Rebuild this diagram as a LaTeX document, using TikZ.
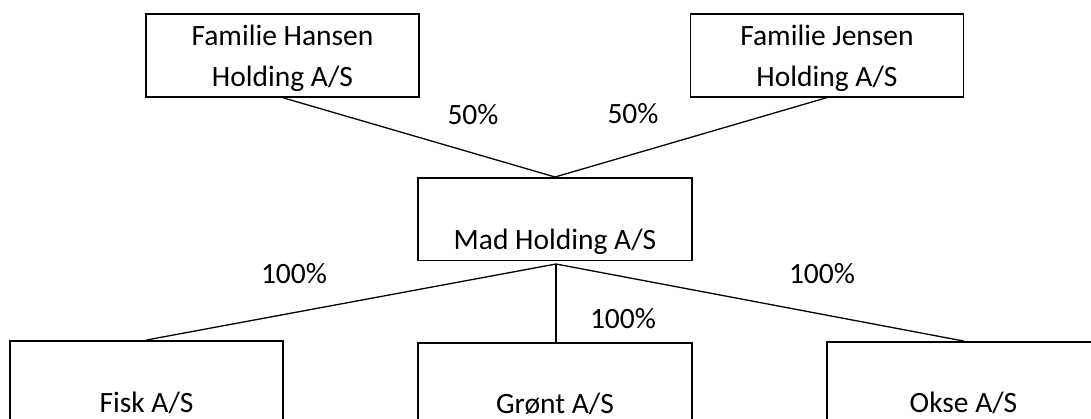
\documentclass[tikz,border=0pt]{standalone}
\usepackage{fontspec}
\setmainfont{Carlito}
\usepackage{tikz}
\usetikzlibrary{positioning,calc}

\tikzset{
  firm/.style={draw, line width=1.6pt, inner sep=0pt, minimum width=273pt,
    text height=72pt, text depth=10.5pt, anchor=north},
  firmtwo/.style={firm, align=center, text height=73pt, text depth=10pt},
  share/.style={line width=1.3pt},
  pct/.style={anchor=base, inner sep=0pt}
}

\begin{document}
\begin{tikzpicture}[x=1pt,y=-1pt,font=\fontsize{29.5}{41}\selectfont]
    \useasboundingbox (0,0) rectangle (1091,418);

    % Owners
    \node[firmtwo] (hansen) at (282.5,13) {Familie Hansen\\Holding A/S};
    \node[firmtwo] (jensen) at (827,13) {Familie Jensen\\Holding A/S};

    % Holding company
    \node[firm, minimum width=274pt] (mad) at (555,177) {Mad Holding A/S};
    \coordinate (madfoot) at (556,264);

    % Subsidiaries
    \node[firm, text height=72pt] (fisk) at (146.5,340) {Fisk A/S};
    \node[firm, minimum width=274pt, text height=70.5pt] (gront) at (555,342) {Grønt A/S};
    \node[firm, text height=71pt] (okse) at (963.5,341) {Okse A/S};

    % Ownership lines
    \draw[share] (hansen.south) -- (mad.north);
    \draw[share] (jensen.south) -- (mad.north);
    \draw[share] (madfoot) -- (fisk.north);
    \draw[share] (madfoot) -- (madfoot |- gront.north);
    \draw[share] (madfoot) -- (okse.north);

    % Shares
    \node[pct] (pa) at (473,124) {50\%};
    \node[pct] (pb) at (633,123) {50\%};
    \node[pct] (pc) at (294,283) {100\%};
    \node[pct] (pd) at (623,328) {100\%};
    \node[pct] (pe) at (822,283) {100\%};
\end{tikzpicture}
\end{document}
